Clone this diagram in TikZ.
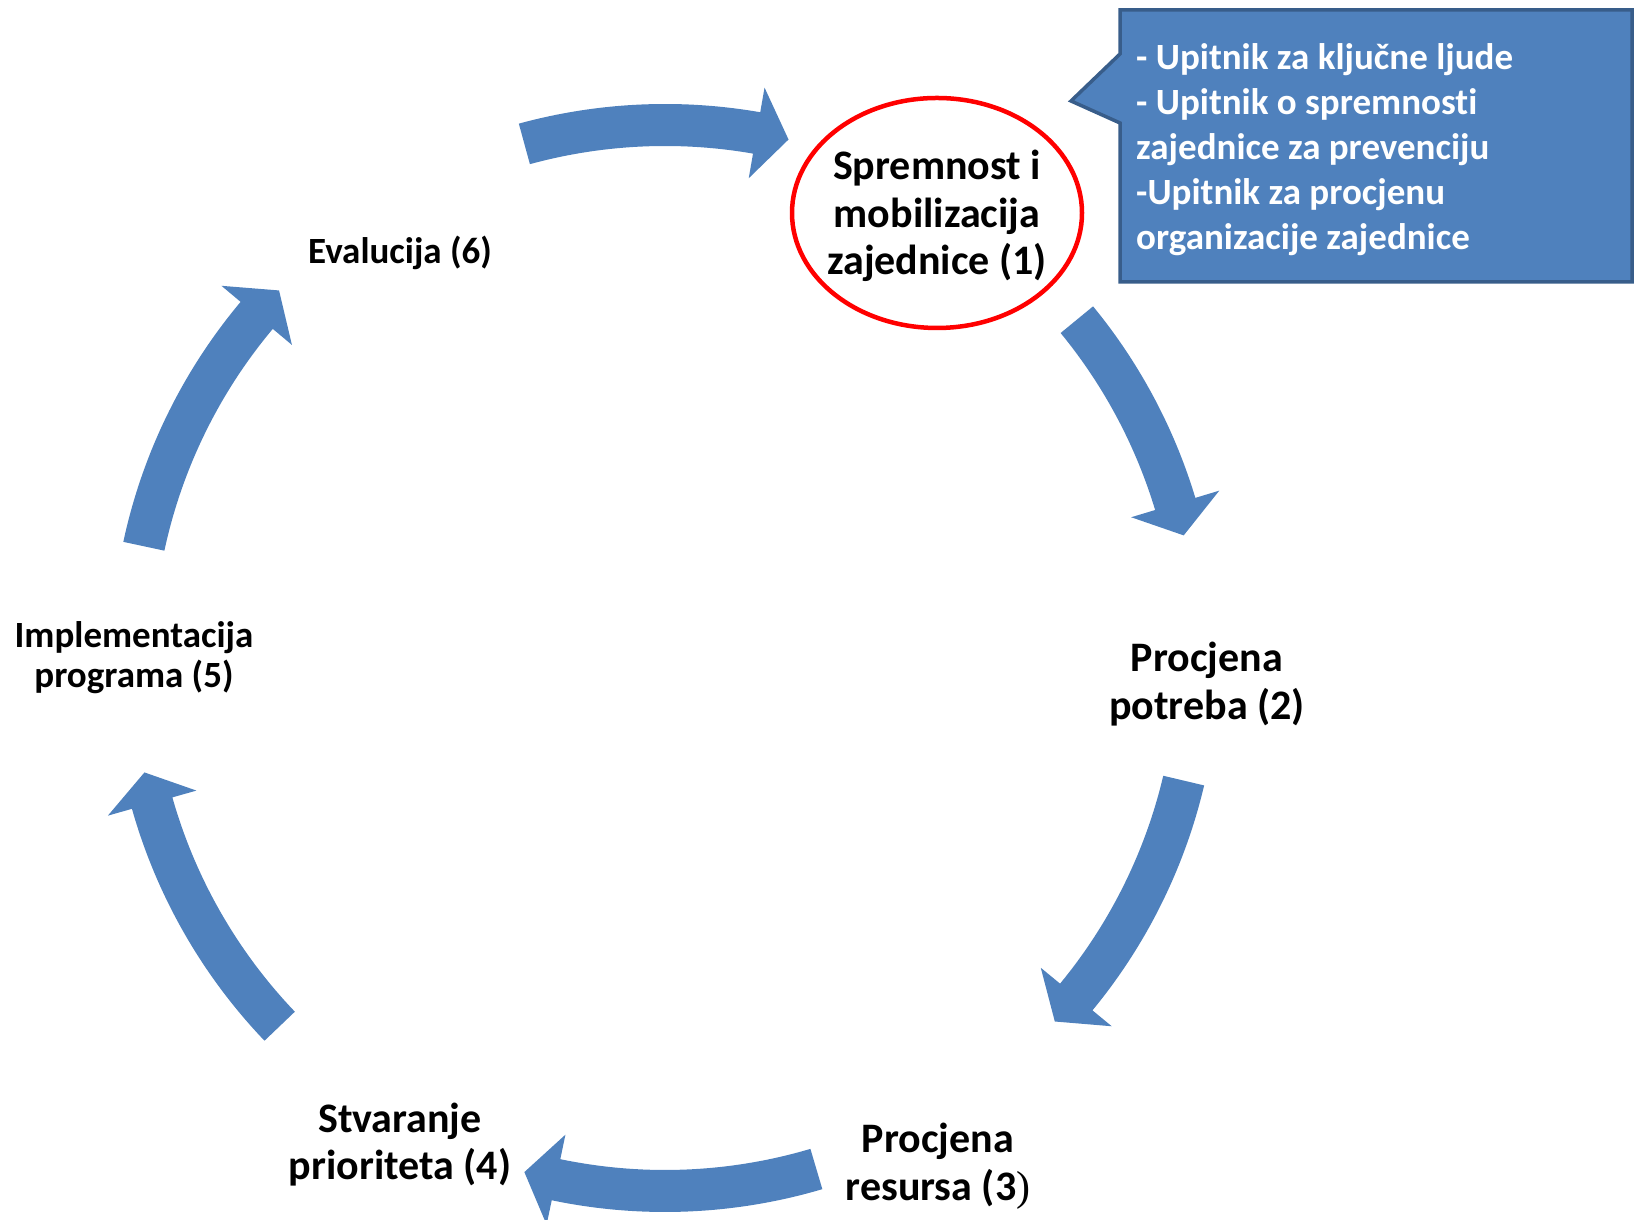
\documentclass[tikz,border=0pt]{standalone}
\usepackage{fontspec}
\setmainfont{Carlito}[Ligatures={NoCommon}]
\newfontfamily\serifparen{Liberation Serif}
\definecolor{cycleblue}{HTML}{4F81BD}
\definecolor{calloutedge}{HTML}{385D8A}
\begin{document}
\begin{tikzpicture}[x=1pt,y=1pt,
  cyclefill/.style={fill=cycleblue},
  biglabel/.style={align=center, inner sep=0pt, font=\fontsize{42}{47.5}\selectfont\bfseries},
  smalllabel/.style={align=center, inner sep=0pt, font=\fontsize{37}{40}\selectfont\bfseries},
  callouttext/.style={align=left, inner sep=0pt, text=white, font=\fontsize{37}{45}\selectfont\bfseries}]
\useasboundingbox (0,0) rectangle (1635,1220);
% circular arrows
\begin{scope}[shift={(665,562)}]
\foreach \ta/\ba/\pa in {105.3/80.1/76.6, 39.4/16.8/13.3, -13.3/-39.5/-43.0,
                         -73.5/-101.8/-105.3, 223.7/195.8/192.4, 167.9/140.0/136.4}{
  \fill[cyclefill] (\ta:554) arc[start angle=\ta, end angle=\ba, radius=554pt]
     -- (\ba:579) -- (\pa:533) -- (\ba:487) -- (\ba:512)
     arc[start angle=\ba, end angle=\ta, radius=512pt] -- cycle;
}
\end{scope}
% callout
\draw[fill=cycleblue, draw=calloutedge, line width=3.5pt, line join=miter]
  (1120,1210) -- (1632,1210) -- (1632,938) -- (1120,938) -- (1120,1097)
  -- (1071,1119) -- (1120,1166) -- cycle;
\node[callouttext, anchor=north west] (notes) at (1136,1177)
  {- Upitnik za ključne ljude\\- Upitnik o spremnosti\\zajednice za prevenciju\\-Upitnik za procjenu\\organizacije zajednice};
% red ellipse
\draw[red, line width=4.5pt] (937,1007) ellipse [x radius=145, y radius=115];
\node[biglabel] (s1) at (937,1004) {Spremnost i\\mobilizacija\\zajednice (1)};
\node[biglabel] (s2) at (1207,536) {Procjena\\potreba (2)};
\node[biglabel] (s3) at (938,54) {Procjena\\resursa (3{\serifparen\mdseries )}};
\node[biglabel] (s4) at (400,75.5) {Stvaranje\\prioriteta (4)};
\node[smalllabel] (s5) at (134,562.5) {Implementacija\\programa (5)};
\node[smalllabel] (s6) at (400,967) {Evalucija (6)};
\end{tikzpicture}
\end{document}
